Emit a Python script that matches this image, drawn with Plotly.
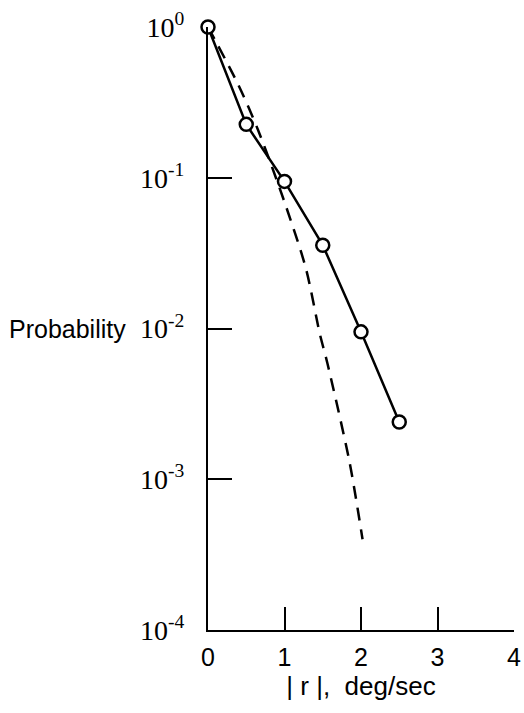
import plotly.graph_objects as go

# measured data (open circles, solid line)
meas_x = [0.0, 0.5, 1.0, 1.5, 2.0, 2.5]
meas_p = [1.0, 0.226, 0.0946, 0.0357, 0.0095, 0.0024]

# dashed curve
dash_x = [0.0, 0.4, 0.65, 1.0, 1.28, 1.46, 1.56, 1.85, 2.02]
dash_p = [1.0, 0.41, 0.21, 0.069, 0.025, 0.0093, 0.0059, 0.0013, 0.0004]

x_ticks = [0, 1, 2, 3, 4]
x_ticktext = ["0", "1", "2", "3", "4"]
y_ticks = [1e0, 1e-1, 1e-2, 1e-3, 1e-4]
y_ticktext = ["10<sup>0</sup>", "10<sup>-1</sup>", "10<sup>-2</sup>", "10<sup>-3</sup>", "10<sup>-4</sup>"]

sans = "Liberation Sans, Arial, sans-serif"
serif = "Liberation Serif, Times New Roman, serif"

fig = go.Figure()
fig.add_trace(go.Scatter(
    x=dash_x, y=dash_p, mode="lines",
    line=dict(color="black", width=2.5, dash="13px,9px", shape="spline", smoothing=0.8),
    cliponaxis=False, showlegend=False))
fig.add_trace(go.Scatter(
    x=meas_x, y=meas_p, mode="lines+markers",
    line=dict(color="black", width=2.5),
    marker=dict(symbol="circle", size=13, color="white",
                line=dict(color="black", width=2.5)),
    cliponaxis=False, showlegend=False))

fig.update_layout(
    width=524, height=713,
    margin=dict(l=208, r=10, t=27, b=83),
    paper_bgcolor="white", plot_bgcolor="white",
    xaxis=dict(range=[0, 4], tickvals=x_ticks, ticktext=x_ticktext,
               automargin=False,
               ticks="inside", ticklen=23, tickwidth=2, tickcolor="black",
               showline=True, linecolor="black", linewidth=2,
               showgrid=False, zeroline=False, ticklabelstandoff=4,
               tickfont=dict(family=sans, size=25, color="black"),
               title=dict(text="| r |,  deg/sec", standoff=0,
                          font=dict(family=sans, size=26, color="black"))),
    yaxis=dict(type="log", range=[-4, 0], tickvals=y_ticks, ticktext=y_ticktext,
               automargin=False,
               ticks="inside", ticklen=24, tickwidth=2, tickcolor="black",
               showline=True, linecolor="black", linewidth=2,
               showgrid=False, zeroline=False, ticklabelstandoff=16,
               tickfont=dict(family=serif, size=28, color="black")),
    annotations=[dict(text="Probability", xref="paper", yref="y",
                      x=-0.261, y=-2, xanchor="right", yanchor="middle",
                      showarrow=False,
                      font=dict(family=sans, size=25, color="black"))],
)

fig.write_html("out.html", config={"displayModeBar": False},
               post_script="document.body.style.margin='0';document.body.style.overflow='hidden';")
